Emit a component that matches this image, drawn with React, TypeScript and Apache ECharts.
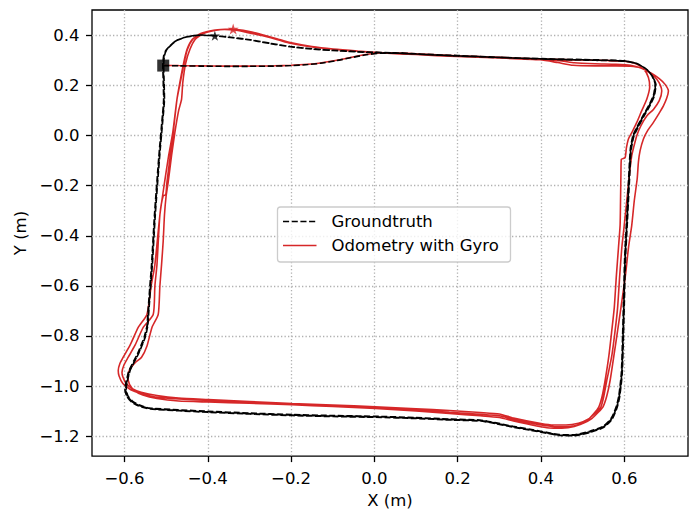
import React, { useEffect, useRef } from 'react';
import * as echarts from 'echarts';

const xTickValues = [-0.6, -0.4, -0.2, 0, 0.2, 0.4, 0.6];
const yTickValues = [-1.2, -1.0, -0.8, -0.6, -0.4, -0.2, 0, 0.2, 0.4];

// Groundtruth, lap by lap (x, y in metres)
const gtLap1 = [
  [-0.507, 0.280], [-0.47, 0.279], [-0.42, 0.278], [-0.36, 0.277], [-0.30, 0.277], [-0.24, 0.278], [-0.20, 0.280], [-0.16, 0.284], [-0.13, 0.289], [-0.09, 0.300], [-0.055, 0.312], [-0.02, 0.323], [0.02, 0.330], [0.06, 0.329],
  [0.10, 0.326], [0.20, 0.319], [0.30, 0.313], [0.40, 0.307], [0.50, 0.303], [0.56, 0.301], [0.602, 0.298], [0.630, 0.288], [0.654, 0.265], [0.668, 0.236], [0.675, 0.205], [0.671, 0.160], [0.660, 0.120], [0.646, 0.079], [0.632, 0.035], [0.622, 0.000], [0.616, -0.050], [0.614, -0.092], [0.610, -0.224], [0.606, -0.357], [0.602, -0.489], [0.599, -0.674], [0.597, -0.800], [0.594, -0.950], [0.588, -1.040], [0.582, -1.083], [0.570, -1.130], [0.550, -1.163], [0.518, -1.183], [0.478, -1.197], [0.445, -1.196], [0.414, -1.187], [0.375, -1.175], [0.334, -1.163], [0.290, -1.148], [0.254, -1.138], [0.182, -1.134], [0.100, -1.128], [0.002, -1.123], [-0.100, -1.120], [-0.198, -1.116], [-0.300, -1.110], [-0.399, -1.103], [-0.470, -1.097], [-0.539, -1.090], [-0.565, -1.078], [-0.582, -1.062], [-0.593, -1.040], [-0.597, -1.015], [-0.595, -0.990], [-0.587, -0.938], [-0.567, -0.872], [-0.551, -0.806], [-0.545, -0.760], [-0.543, -0.714], [-0.538, -0.600], [-0.534, -0.515], [-0.527, -0.317], [-0.521, -0.180], [-0.515, -0.053], [-0.509, 0.060], [-0.505, 0.145], [-0.506, 0.220], [-0.507, 0.280], [-0.505, 0.318], [-0.500, 0.340], [-0.491, 0.357], [-0.475, 0.380], [-0.451, 0.394], [-0.419, 0.401], [-0.383, 0.399],
];
const gtLap2 = [
  [-0.34, 0.391], [-0.298, 0.382], [-0.25, 0.368], [-0.202, 0.355], [-0.15, 0.346], [-0.10, 0.340], [-0.02, 0.333], [0.06, 0.329], [0.10, 0.326], [0.20, 0.318], [0.30, 0.312], [0.40, 0.306], [0.50, 0.302], [0.56, 0.300], [0.603, 0.297], [0.631, 0.287], [0.655, 0.263], [0.669, 0.234], [0.676, 0.203], [0.672, 0.158], [0.661, 0.118], [0.647, 0.077], [0.633, 0.033], [0.623, -0.002], [0.617, -0.052], [0.615, -0.095], [0.611, -0.226], [0.607, -0.359], [0.603, -0.490], [0.600, -0.676], [0.598, -0.802], [0.595, -0.952], [0.589, -1.042], [0.583, -1.085], [0.571, -1.132], [0.551, -1.165], [0.519, -1.185], [0.479, -1.199], [0.446, -1.198], [0.415, -1.189], [0.376, -1.177], [0.335, -1.165], [0.291, -1.150], [0.255, -1.140], [0.183, -1.136], [0.101, -1.130], [0.003, -1.125], [-0.099, -1.122], [-0.197, -1.118], [-0.299, -1.112], [-0.398, -1.105], [-0.469, -1.099], [-0.538, -1.092], [-0.566, -1.080], [-0.583, -1.064], [-0.594, -1.042], [-0.599, -1.016], [-0.597, -0.990], [-0.589, -0.938], [-0.569, -0.872], [-0.553, -0.806], [-0.546, -0.760], [-0.544, -0.714], [-0.539, -0.600], [-0.535, -0.515], [-0.528, -0.317], [-0.522, -0.180], [-0.516, -0.053], [-0.510, 0.060], [-0.506, 0.145], [-0.507, 0.220], [-0.508, 0.280], [-0.506, 0.318], [-0.501, 0.340], [-0.492, 0.357], [-0.476, 0.380], [-0.452, 0.394], [-0.420, 0.401], [-0.383, 0.399],
];
const gtLap3 = [
  [-0.34, 0.392], [-0.298, 0.383], [-0.25, 0.369], [-0.202, 0.356], [-0.15, 0.347], [-0.10, 0.341], [-0.02, 0.334], [0.06, 0.330], [0.10, 0.327], [0.20, 0.320], [0.30, 0.313], [0.40, 0.308], [0.50, 0.304], [0.56, 0.302], [0.601, 0.299], [0.629, 0.289], [0.653, 0.266], [0.667, 0.237], [0.674, 0.206], [0.670, 0.161], [0.659, 0.121], [0.645, 0.080], [0.631, 0.036], [0.621, 0.001], [0.615, -0.048], [0.613, -0.090], [0.609, -0.222], [0.605, -0.355], [0.601, -0.487], [0.598, -0.672], [0.596, -0.798], [0.593, -0.948], [0.587, -1.038], [0.581, -1.081], [0.569, -1.128], [0.549, -1.161], [0.517, -1.181], [0.477, -1.195], [0.444, -1.194], [0.413, -1.185], [0.374, -1.173], [0.333, -1.161], [0.289, -1.146], [0.253, -1.136], [0.181, -1.132], [0.099, -1.126], [0.001, -1.121], [-0.101, -1.118], [-0.199, -1.114], [-0.301, -1.108], [-0.400, -1.101], [-0.471, -1.095], [-0.540, -1.088], [-0.564, -1.076], [-0.581, -1.060], [-0.592, -1.038], [-0.596, -1.013], [-0.594, -0.988], [-0.586, -0.936], [-0.566, -0.870], [-0.550, -0.804], [-0.544, -0.758], [-0.542, -0.712], [-0.537, -0.598], [-0.533, -0.513], [-0.526, -0.315], [-0.520, -0.178], [-0.514, -0.051], [-0.508, 0.062], [-0.504, 0.147], [-0.505, 0.222], [-0.506, 0.282], [-0.504, 0.320], [-0.499, 0.342], [-0.490, 0.359], [-0.474, 0.381], [-0.450, 0.395], [-0.418, 0.402], [-0.383, 0.399],
];

// Odometry with gyro
const odoStart = [
  [-0.507, 0.281], [-0.47, 0.280], [-0.42, 0.279], [-0.36, 0.278], [-0.30, 0.278], [-0.24, 0.279], [-0.20, 0.281], [-0.16, 0.285], [-0.13, 0.290], [-0.09, 0.301], [-0.055, 0.313], [-0.02, 0.324], [0.02, 0.331], [0.06, 0.330],
];
const odoLap1 = [
  [0.10, 0.327], [0.20, 0.319], [0.30, 0.313], [0.40, 0.306], [0.50, 0.302], [0.56, 0.300], [0.600, 0.297], [0.628, 0.287], [0.647, 0.265], [0.658, 0.232], [0.661, 0.195], [0.654, 0.145], [0.642, 0.100], [0.630, 0.053], [0.619, 0.015], [0.610, -0.013], [0.605, -0.050], [0.602, -0.088], [0.593, -0.094], [0.592, -0.150], [0.591, -0.260], [0.590, -0.357], [0.586, -0.449], [0.581, -0.560], [0.576, -0.687], [0.570, -0.779], [0.563, -0.880], [0.554, -0.978], [0.547, -1.040], [0.539, -1.083], [0.526, -1.112], [0.508, -1.142], [0.480, -1.162], [0.450, -1.169], [0.420, -1.168], [0.390, -1.160], [0.334, -1.140], [0.300, -1.126], [0.254, -1.119], [0.180, -1.110], [0.100, -1.100], [0.002, -1.090], [-0.100, -1.082], [-0.198, -1.075], [-0.300, -1.069], [-0.399, -1.064], [-0.470, -1.060], [-0.522, -1.050], [-0.556, -1.036], [-0.576, -1.018], [-0.588, -0.993], [-0.592, -0.960], [-0.586, -0.930], [-0.572, -0.903], [-0.559, -0.885], [-0.546, -0.840], [-0.534, -0.766], [-0.519, -0.714], [-0.515, -0.600], [-0.511, -0.515], [-0.507, -0.420], [-0.504, -0.317], [-0.500, -0.240], [-0.495, -0.185], [-0.487, -0.080], [-0.479, 0.013], [-0.470, 0.100], [-0.463, 0.145], [-0.460, 0.213], [-0.453, 0.290], [-0.443, 0.344], [-0.430, 0.385], [-0.410, 0.408], [-0.380, 0.421], [-0.350, 0.425], [-0.330, 0.424],
];
const odoLap2 = [
  [-0.300, 0.416], [-0.260, 0.399], [-0.230, 0.385], [-0.202, 0.372], [-0.150, 0.356], [-0.099, 0.346], [-0.040, 0.338], [0.021, 0.331], [0.100, 0.325], [0.198, 0.318], [0.300, 0.311], [0.398, 0.306], [0.450, 0.298], [0.480, 0.291], [0.530, 0.287], [0.580, 0.285], [0.615, 0.281], [0.640, 0.270], [0.662, 0.250], [0.678, 0.225], [0.687, 0.200], [0.690, 0.178], [0.684, 0.140], [0.670, 0.105], [0.654, 0.079], [0.640, 0.040], [0.630, 0.000], [0.622, -0.050], [0.618, -0.079], [0.612, -0.160], [0.606, -0.260], [0.600, -0.357], [0.594, -0.449], [0.589, -0.560], [0.584, -0.687], [0.578, -0.779], [0.570, -0.880], [0.558, -0.978], [0.551, -1.040], [0.544, -1.083], [0.532, -1.106], [0.513, -1.133], [0.490, -1.149], [0.460, -1.156], [0.430, -1.156], [0.400, -1.150], [0.334, -1.128], [0.300, -1.112], [0.254, -1.106], [0.180, -1.098], [0.100, -1.091], [0.002, -1.083], [-0.100, -1.076], [-0.198, -1.070], [-0.300, -1.062], [-0.399, -1.054], [-0.470, -1.048], [-0.522, -1.038], [-0.560, -1.025], [-0.580, -1.012], [-0.596, -0.990], [-0.604, -0.963], [-0.606, -0.945], [-0.601, -0.915], [-0.591, -0.885], [-0.574, -0.835], [-0.555, -0.766], [-0.531, -0.714], [-0.527, -0.600], [-0.522, -0.515], [-0.515, -0.317], [-0.507, -0.240], [-0.501, -0.236], [-0.498, -0.185], [-0.490, -0.080], [-0.483, 0.013], [-0.474, 0.145], [-0.467, 0.213], [-0.458, 0.290], [-0.450, 0.344], [-0.437, 0.385], [-0.417, 0.408], [-0.388, 0.420], [-0.360, 0.424], [-0.335, 0.422],
];
const odoLap3 = [
  [-0.310, 0.414], [-0.270, 0.400], [-0.230, 0.382], [-0.202, 0.369], [-0.150, 0.354], [-0.099, 0.345], [-0.040, 0.337], [0.021, 0.330], [0.100, 0.324], [0.198, 0.316], [0.300, 0.310], [0.398, 0.303], [0.440, 0.292], [0.477, 0.281], [0.530, 0.279], [0.580, 0.279], [0.615, 0.277], [0.638, 0.271], [0.665, 0.250], [0.684, 0.228], [0.698, 0.205], [0.706, 0.178], [0.702, 0.150], [0.694, 0.119], [0.682, 0.085], [0.670, 0.053], [0.656, 0.020], [0.646, -0.013], [0.638, -0.060], [0.634, -0.105], [0.631, -0.172], [0.624, -0.260], [0.618, -0.357], [0.610, -0.449], [0.603, -0.555], [0.592, -0.687], [0.584, -0.779], [0.575, -0.880], [0.566, -0.978], [0.558, -1.040], [0.549, -1.083], [0.537, -1.106], [0.522, -1.130], [0.500, -1.150], [0.470, -1.162], [0.440, -1.163], [0.400, -1.156], [0.334, -1.134], [0.300, -1.119], [0.254, -1.113], [0.180, -1.105], [0.100, -1.095], [0.002, -1.086], [-0.100, -1.079], [-0.198, -1.072], [-0.300, -1.065], [-0.399, -1.058], [-0.470, -1.052], [-0.522, -1.045], [-0.560, -1.030], [-0.585, -1.015], [-0.604, -0.990], [-0.613, -0.960], [-0.615, -0.938], [-0.611, -0.910], [-0.603, -0.885], [-0.586, -0.835], [-0.567, -0.766], [-0.546, -0.714], [-0.536, -0.600], [-0.527, -0.515], [-0.515, -0.317], [-0.505, -0.200], [-0.494, -0.080], [-0.484, 0.013], [-0.474, 0.145], [-0.466, 0.213], [-0.457, 0.290], [-0.449, 0.344], [-0.436, 0.385], [-0.416, 0.408], [-0.386, 0.421], [-0.358, 0.425], [-0.339, 0.426],
];

const gtStartPoint = [[-0.507, 0.280]];
const gtEndPoint = [[-0.383, 0.399]];
const odoEndPoint = [[-0.339, 0.426]];

const legendLabels = ['Groundtruth', 'Odometry with Gyro'];

const STAR = 'path://M50,0 L61.8,35.4 L99,35.4 L69,57.3 L80.9,92.7 L50,70.8 L19.1,92.7 L31,57.3 L1,35.4 L38.2,35.4 Z';
const FONT = 'DejaVu Sans';
const FS = 16.5;
const RED = '#d62728';

export default function App() {
  const ref = useRef<HTMLDivElement>(null);
  useEffect(() => {
    document.body.style.margin = '0';
    const chart = echarts.init(ref.current as HTMLDivElement, null, { renderer: 'svg' });
    const fmt = (v: number) => (v < -1e-9 ? '\u2212' : '') + Math.abs(v).toFixed(1);
    const gtPath = [...gtLap1, ...gtLap2, ...gtLap3];
    const odoPath = [...odoStart, ...odoLap1, ...odoLap2, ...odoLap3];
    const splitLine = { show: true, lineStyle: { color: '#b0b0b0', width: 1.3, type: [1.3, 2.2] } };
    chart.setOption({
      animation: false,
      grid: { left: 92, right: 1, top: 10, bottom: 54, show: true, borderColor: '#000', borderWidth: 1.3, backgroundColor: '#fff' },
      xAxis: {
        type: 'value', min: -0.678, max: 0.753,
        name: 'X (m)', nameLocation: 'middle', nameGap: 30,
        nameTextStyle: { color: '#000', fontFamily: FONT, fontSize: FS },
        axisLine: { show: false, onZero: false },
        axisTick: { show: true, length: 6, inside: false, lineStyle: { color: '#000', width: 1.3 }, customValues: xTickValues },
        axisLabel: { customValues: xTickValues, formatter: fmt, margin: 14, color: '#000', fontFamily: FONT, fontSize: FS },
        splitLine,
      },
      yAxis: {
        type: 'value', min: -1.28, max: 0.502,
        name: 'Y (m)', nameLocation: 'middle', nameGap: 62, nameRotate: 90,
        nameTextStyle: { color: '#000', fontFamily: FONT, fontSize: FS },
        axisLine: { show: false, onZero: false },
        axisTick: { show: true, length: 6, inside: false, lineStyle: { color: '#000', width: 1.3 }, customValues: yTickValues },
        axisLabel: { customValues: yTickValues, formatter: fmt, margin: 12.5, color: '#000', fontFamily: FONT, fontSize: FS },
        splitLine,
      },
      series: [
        { type: 'line', data: odoPath, symbol: 'none', showSymbol: false, smooth: 0.2, silent: true, z: 2,
          lineStyle: { color: RED, width: 1.6 } },
        { type: 'line', data: gtPath, symbol: 'none', showSymbol: false, smooth: 0.2, silent: true, z: 3,
          lineStyle: { color: '#000', width: 1.6, type: [6.1, 2.6] } },
        { type: 'scatter', data: gtStartPoint, symbol: 'rect', symbolSize: 12, itemStyle: { color: '#000' }, silent: true, z: 5 },
        { type: 'scatter', data: gtEndPoint, symbol: STAR, symbolSize: 10, itemStyle: { color: '#000' }, silent: true, z: 5 },
        { type: 'scatter', data: odoEndPoint, symbol: STAR, symbolSize: 11, itemStyle: { color: RED }, silent: true, z: 6 },
      ],
      graphic: [
        { type: 'rect', z: 100, shape: { x: 277.5, y: 207, width: 233, height: 55, r: 3 },
          style: { fill: 'rgba(255,255,255,0.8)', stroke: '#cccccc', lineWidth: 1.3 } },
        { type: 'line', z: 101, shape: { x1: 283, y1: 221.5, x2: 316.5, y2: 221.5 },
          style: { stroke: '#000', lineWidth: 1.6, lineDash: [6.1, 2.6] } },
        { type: 'line', z: 101, shape: { x1: 283, y1: 245.5, x2: 316.5, y2: 245.5 },
          style: { stroke: RED, lineWidth: 1.6 } },
        { type: 'text', z: 101, x: 331.5, y: 221.5,
          style: { text: legendLabels[0], fill: '#000', fontFamily: FONT, fontSize: FS, verticalAlign: 'middle', align: 'left' } },
        { type: 'text', z: 101, x: 331.5, y: 245.5,
          style: { text: legendLabels[1], fill: '#000', fontFamily: FONT, fontSize: FS, verticalAlign: 'middle', align: 'left' } },
      ],
    });
    return () => chart.dispose();
  }, []);
  return <div ref={ref} style={{ position: 'absolute', left: 0, top: 0, width: 689, height: 514 }} />;
}
